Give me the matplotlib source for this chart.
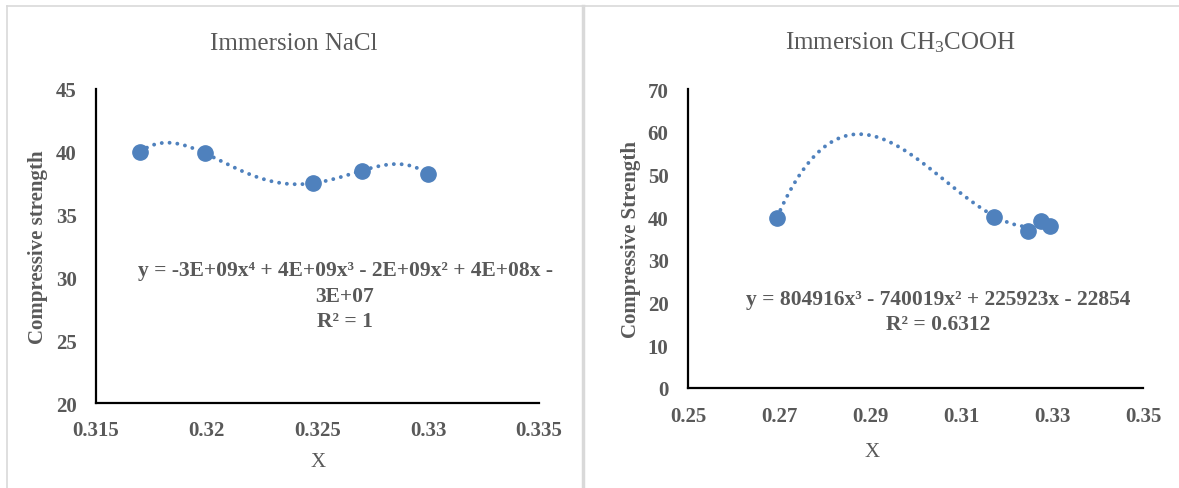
import numpy as np
import matplotlib
matplotlib.use("Agg")
import matplotlib.pyplot as plt
from matplotlib.lines import Line2D

plt.rcParams['font.family'] = ['Liberation Serif', 'DejaVu Serif']
plt.rcParams['mathtext.fontset'] = 'custom'
plt.rcParams['mathtext.rm'] = 'Liberation Serif'
plt.rcParams['mathtext.it'] = 'Liberation Serif:italic'
plt.rcParams['mathtext.bf'] = 'Liberation Serif:bold'

# ---- data ----
nacl_x = [0.317, 0.3199, 0.3248, 0.3270, 0.3300]
nacl_y = [40.0, 39.9, 37.5, 38.5, 38.2]
nacl_xticks = [0.315, 0.32, 0.325, 0.33, 0.335]
nacl_xticklabels = ["0.315", "0.32", "0.325", "0.33", "0.335"]
nacl_yticks = [20, 25, 30, 35, 40, 45]

acid_x = [0.2696, 0.3173, 0.3247, 0.3276, 0.3296]
acid_y = [39.7, 40.1, 36.7, 39.0, 38.0]
# cubic trendline coefficients as printed on the chart
acid_trend_coeffs = [804916, -740019, 225923, -22854]
acid_xticks = [0.25, 0.27, 0.29, 0.31, 0.33, 0.35]
acid_xticklabels = ["0.25", "0.27", "0.29", "0.31", "0.33", "0.35"]
acid_yticks = [0, 10, 20, 30, 40, 50, 60, 70]

W, H = 1179, 489
fig = plt.figure(figsize=(W / 100, H / 100), dpi=100)

GRAY = '#595959'
BLUE = '#4F81BD'
BORDER = '#d9d9d9'

# panel borders
fig.add_artist(Line2D([7 / W, 1.0], [1 - 7 / H, 1 - 7 / H], color=BORDER, lw=1.2, transform=fig.transFigure))
fig.add_artist(Line2D([7 / W, 7 / W], [0, 1 - 7 / H], color=BORDER, lw=1.2, transform=fig.transFigure))
fig.add_artist(Line2D([582.5 / W, 582.5 / W], [0, 1 - 7 / H], color=BORDER, lw=2.5, transform=fig.transFigure))


def px_axes(x0, x1, ytop, ybot):
    return fig.add_axes([x0 / W, 1 - ybot / H, (x1 - x0) / W, (ybot - ytop) / H])


def style(ax, xpad):
    for s in ['top', 'right']:
        ax.spines[s].set_visible(False)
    for s in ['left', 'bottom']:
        ax.spines[s].set_color('black')
        ax.spines[s].set_linewidth(1.6)
    ax.tick_params(length=0, labelsize=15, colors=GRAY)
    ax.tick_params(axis='y', pad=14)
    ax.tick_params(axis='x', pad=xpad)
    for lab in ax.get_xticklabels() + ax.get_yticklabels():
        lab.set_fontweight('bold')


DOTS = dict(color=BLUE, lw=2.8, linestyle=(0, (0.01, 2.0)), dash_capstyle='round')

# ---- left ----
ax1 = px_axes(96, 539, 90, 404)
ax1.set_xlim(0.315, 0.335)
ax1.set_ylim(20, 45)
ax1.set_xticks(nacl_xticks)
ax1.set_xticklabels(nacl_xticklabels)
ax1.set_yticks(nacl_yticks)
c1 = np.polyfit(nacl_x, nacl_y, 4)
xs1 = np.linspace(min(nacl_x), max(nacl_x), 300)
ax1.plot(xs1, np.polyval(c1, xs1), **DOTS)
ax1.plot(nacl_x, nacl_y, 'o', color=BLUE, ms=11, zorder=3)
style(ax1, 12.5)
fig.text(294 / W, 1 - 44 / H, "Immersion NaCl", ha='center', va='center', fontsize=18, color=GRAY)
fig.text(38 / W, 1 - 247 / H, "Compressive strength", ha='center', va='center', rotation=90,
         fontsize=15, fontweight='bold', color=GRAY)
fig.text(318 / W, 1 - 463 / H, "X", ha='center', va='center', fontsize=15, color=GRAY)
fig.text(345 / W, 1 - 271 / H, "y = -3E+09x⁴ + 4E+09x³ - 2E+09x² + 4E+08x -", ha='center', va='center',
         fontsize=15.5, fontweight='bold', color=GRAY)
fig.text(345 / W, 1 - 297 / H, "3E+07", ha='center', va='center', fontsize=15.5, fontweight='bold', color=GRAY)
fig.text(345 / W, 1 - 322 / H, "R² = 1", ha='center', va='center', fontsize=15.5, fontweight='bold', color=GRAY)

# ---- right ----
ax2 = px_axes(688, 1143, 90, 389)
ax2.set_xlim(0.25, 0.35)
ax2.set_ylim(0, 70)
ax2.set_xticks(acid_xticks)
ax2.set_xticklabels(acid_xticklabels)
ax2.set_yticks(acid_yticks)
xs2 = np.linspace(min(acid_x), max(acid_x), 300)
ax2.plot(xs2, np.polyval(acid_trend_coeffs, xs2), **DOTS)
ax2.plot(acid_x, acid_y, 'o', color=BLUE, ms=11, zorder=3)
style(ax2, 13)
fig.text(900 / W, 1 - 43 / H, r"Immersion CH$_3$COOH", ha='center', va='center', fontsize=18, color=GRAY)
fig.text(631 / W, 1 - 240 / H, "Compressive Strength", ha='center', va='center', rotation=90,
         fontsize=15, fontweight='bold', color=GRAY)
fig.text(872 / W, 1 - 453 / H, "X", ha='center', va='center', fontsize=15, color=GRAY)
fig.text(938 / W, 1 - 300 / H, "y = 804916x³ - 740019x² + 225923x - 22854", ha='center', va='center',
         fontsize=15.5, fontweight='bold', color=GRAY)
fig.text(938 / W, 1 - 325 / H, "R² = 0.6312", ha='center', va='center', fontsize=15.5, fontweight='bold', color=GRAY)

fig.savefig("out.png", dpi=100)
